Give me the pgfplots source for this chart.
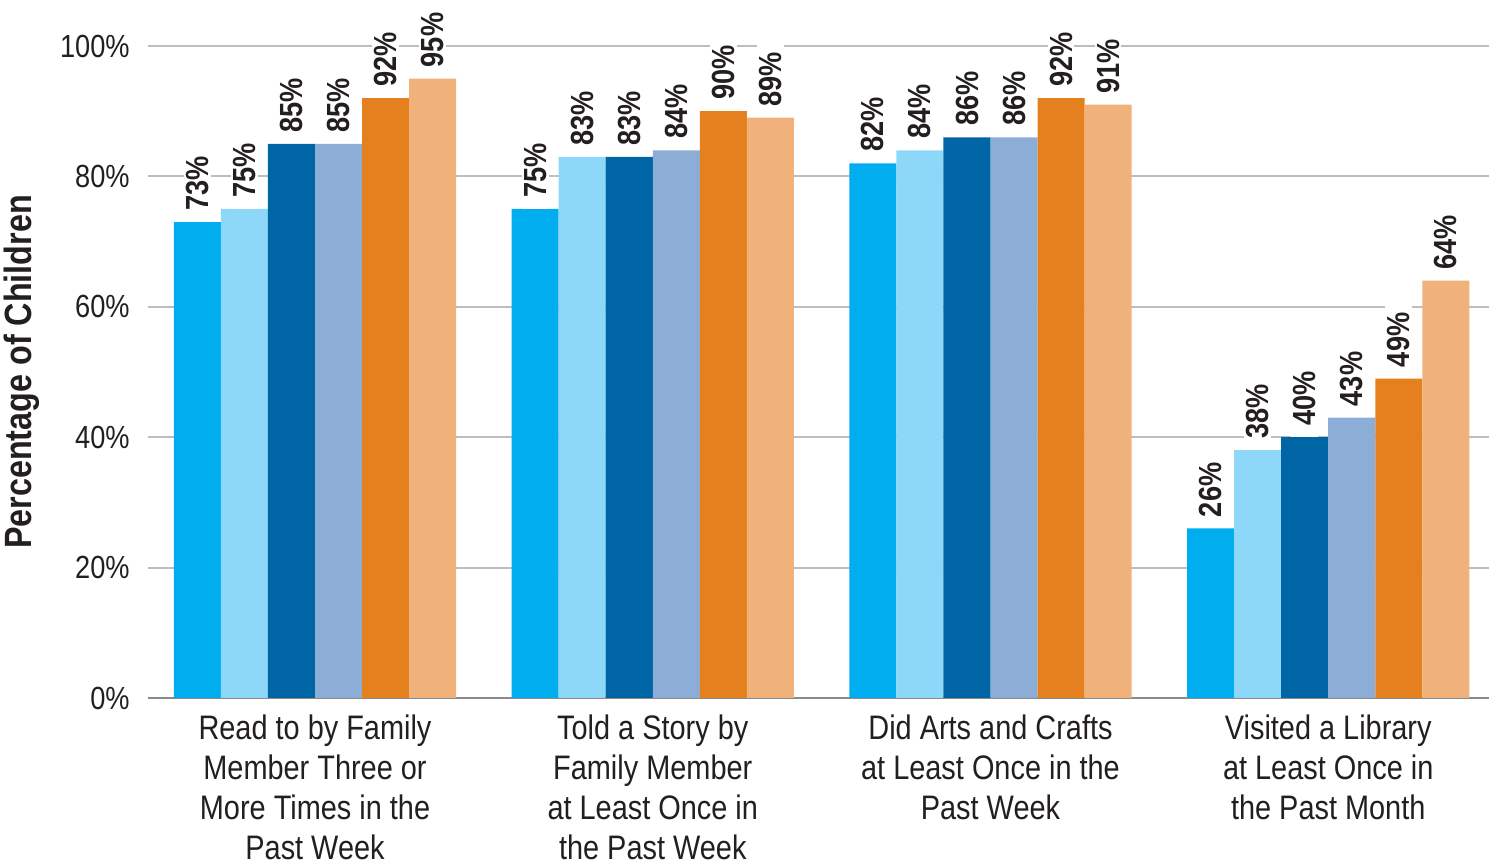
\documentclass[border=0pt]{standalone}
\usepackage{pgfplots}
\usepackage{pgfplotstable}
\pgfplotsset{compat=1.18}
\usepackage{fontspec}
\setmainfont[FakeStretch=0.85]{Liberation Sans}
\definecolor{c1}{HTML}{00AEEF}
\definecolor{c2}{HTML}{8DD8F8}
\definecolor{c3}{HTML}{0065A4}
\definecolor{c4}{HTML}{8CAED6}
\definecolor{c5}{HTML}{E5801F}
\definecolor{c6}{HTML}{F0B17A}
\definecolor{gridgray}{HTML}{BDBDBD}
\definecolor{axisgray}{HTML}{8A8A8A}
\definecolor{txt}{HTML}{231F20}
\pgfplotstableread{
g s1 s2 s3 s4 s5 s6
0 73 75 85 85 92 95
1 75 83 83 84 90 89
2 82 84 86 86 92 91
3 26 38 40 43 49 64
}\data
\begin{document}
\begin{tikzpicture}
\begin{axis}[name=ax, scale only axis, width=670.5pt, height=326pt,
  xmin=-0.4945, xmax=3.476, ymin=0, ymax=100,
  /pgf/number format/assume math mode=true,
  ytick={0,20,...,100}, yticklabel={\pgfmathprintnumber{\tick}\%},
  xtick={0,1,2,3},
  xticklabels={Read to by Family\\Member Three or\\More Times in the\\Past Week,
    Told a Story by\\Family Member\\at Least Once in\\the Past Week,
    Did Arts and Crafts\\at Least Once in the\\Past Week,
    Visited a Library\\at Least Once in\\the Past Month},
  ymajorgrids, grid style={draw=gridgray, line width=1pt},
  axis x line*=bottom, axis y line*=left,
  y axis line style={draw=none},
  x axis line style={draw=axisgray, line width=1.3pt, -},
  major tick length=0pt,
  yticklabel style={font=\fontsize{16}{16}\selectfont, text=txt, inner sep=0pt, anchor=east, xshift=-9pt},
  xticklabel style={font=\fontsize{17}{20}\selectfont, text=txt, align=center, inner sep=0pt, anchor=north, yshift=-8pt},
  ylabel={Percentage of Children},
  ylabel style={font=\bfseries\fontsize{19}{20}\selectfont, text=txt, at={(axis description cs:-0.094,0.5)}, anchor=center},
  ybar, bar width=0.1392, bar shift=0pt,
  point meta=y,
  nodes near coords={\pgfmathprintnumber{\pgfplotspointmeta}\%},
  nodes near coords style={rotate=90, anchor=west, fill=white, inner xsep=5.5pt, inner ysep=1pt, text=txt, font=\bfseries\fontsize{16}{16}\selectfont},
]
\addplot[fill=c1, draw=none] table[x expr=\thisrow{g}-0.348, y=s1]{\data};
\addplot[fill=c2, draw=none] table[x expr=\thisrow{g}-0.2088, y=s2]{\data};
\addplot[fill=c3, draw=none] table[x expr=\thisrow{g}-0.0696, y=s3]{\data};
\addplot[fill=c4, draw=none] table[x expr=\thisrow{g}+0.0696, y=s4]{\data};
\addplot[fill=c5, draw=none] table[x expr=\thisrow{g}+0.2088, y=s5]{\data};
\addplot[fill=c6, draw=none] table[x expr=\thisrow{g}+0.348, y=s6]{\data};
\end{axis}
\pgfresetboundingbox
\path ([shift={(-74pt,-83.5pt)}]ax.south west) rectangle ([shift={(0pt,23pt)}]ax.north east);
\end{tikzpicture}
\end{document}
